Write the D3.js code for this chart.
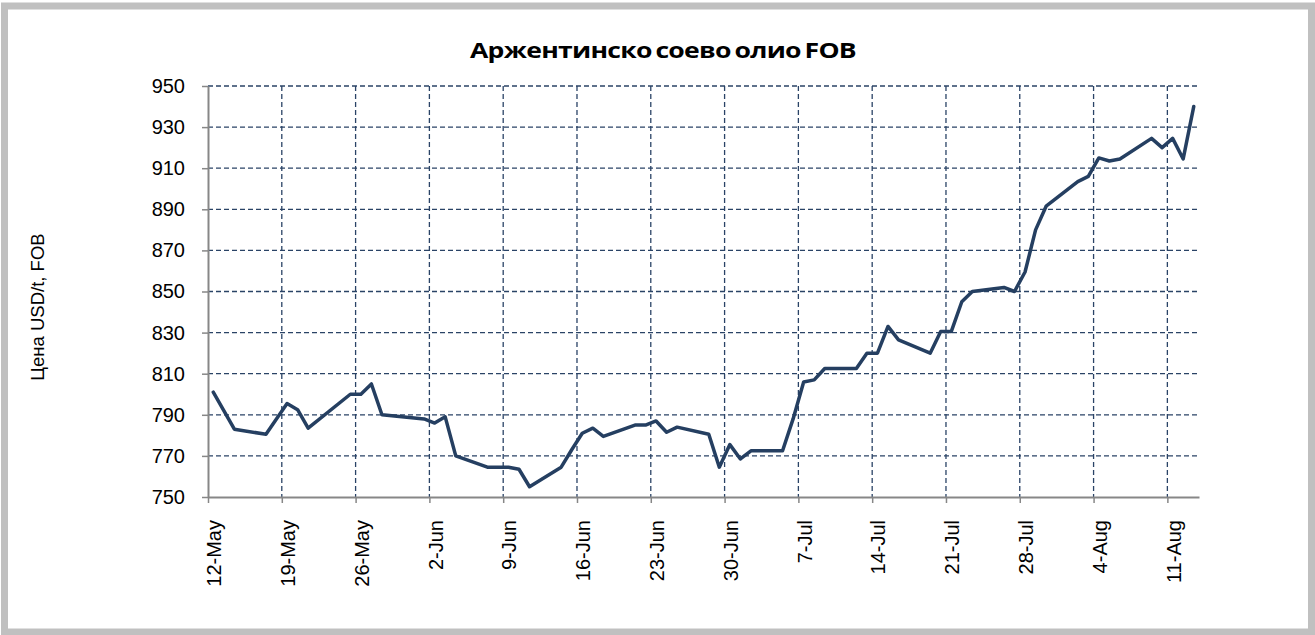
<!DOCTYPE html>
<html>
<head>
<meta charset="utf-8">
<script src="https://cdn.jsdelivr.net/npm/d3@7"></script>
<style>
  html, body { margin: 0; padding: 0; background: #ffffff; }
  svg { display: block; }
</style>
</head>
<body>
<svg id="chart" width="1315" height="635"></svg>
<script>
// ---- data ----
const title = "Аржентинско соево олио FOB";
const yLabel = "Цена USD/t, FOB";
const dates = [
  "2010-05-12","2010-05-14","2010-05-17","2010-05-19","2010-05-20","2010-05-21",
  "2010-05-25","2010-05-26","2010-05-27","2010-05-28","2010-06-01","2010-06-02",
  "2010-06-03","2010-06-04","2010-06-07","2010-06-09","2010-06-10","2010-06-11",
  "2010-06-14","2010-06-15","2010-06-16","2010-06-17","2010-06-18","2010-06-21",
  "2010-06-22","2010-06-23","2010-06-24","2010-06-25","2010-06-28","2010-06-29",
  "2010-06-30","2010-07-01","2010-07-02","2010-07-05","2010-07-06","2010-07-07",
  "2010-07-08","2010-07-09","2010-07-12","2010-07-13","2010-07-14","2010-07-15",
  "2010-07-16","2010-07-19","2010-07-20","2010-07-21","2010-07-22","2010-07-23",
  "2010-07-26","2010-07-27","2010-07-28","2010-07-29","2010-07-30","2010-08-02",
  "2010-08-03","2010-08-04","2010-08-05","2010-08-06","2010-08-09","2010-08-10",
  "2010-08-11","2010-08-12","2010-08-13"
];
const prices = [
  801, 783, 780.5, 795.5, 792.5, 783.5,
  800, 800, 805, 790, 788, 786,
  789, 770, 764.5, 764.5, 763.5, 755,
  764.5, 773, 781, 783.5, 779.5, 785,
  785, 787, 781.5, 784, 780.5, 764.5,
  775.5, 768.5, 772.5, 772.5, 788, 806,
  807, 812.5, 812.5, 820, 820, 833,
  826.5, 820, 830.5, 830.5, 845, 850,
  852, 850, 859.5, 880, 891.5, 903.5,
  906, 915, 913.5, 914.5, 924.5, 920,
  924.5, 914.5, 940
];
const xDomain = ["2010-05-12", "2010-08-14"];
const xTickDates = [
  "2010-05-12","2010-05-19","2010-05-26","2010-06-02","2010-06-09","2010-06-16",
  "2010-06-23","2010-06-30","2010-07-07","2010-07-14","2010-07-21","2010-07-28",
  "2010-08-04","2010-08-11"
];
const xTickLabels = ["12-May","19-May","26-May","2-Jun","9-Jun","16-Jun","23-Jun",
  "30-Jun","7-Jul","14-Jul","21-Jul","28-Jul","4-Aug","11-Aug"];
const yDomain = [750, 950];
const yTicks = [750, 770, 790, 810, 830, 850, 870, 890, 910, 930, 950];

// ---- layout ----
const parse = d3.utcParse("%Y-%m-%d");
const plot = { left: 208, right: 1199, top: 86, bottom: 497 };
const svg = d3.select("#chart");

const x = d3.scaleUtc().domain(xDomain.map(parse)).range([plot.left, plot.right]);
const y = d3.scaleLinear().domain(yDomain).range([plot.bottom, plot.top]);
// points sit in the middle of their one-day slot (date axis, between tick marks)
const mid = d => x(d3.utcHour.offset(d, 12));

const gridColor = "#2a4366";
const axisColor = "#878787";
const lineColor = "#253f61";

// frame
svg.append("rect")
  .attr("x", 4.5).attr("y", 6).attr("width", 1307).attr("height", 626)
  .attr("fill", "#ffffff").attr("stroke", "#c0c0c0").attr("stroke-width", 7);

// title
svg.append("text")
  .attr("x", 663).attr("y", 58)
  .attr("text-anchor", "middle")
  .attr("font-family", "'Open Sans', 'DejaVu Sans', sans-serif")
  .attr("font-weight", 700).attr("font-size", 22)
  .attr("letter-spacing", -0.6)
  .attr("word-spacing", -2)
  .attr("textLength", 386).attr("lengthAdjust", "spacingAndGlyphs")
  .attr("fill", "#000")
  .text(title);

// y label
svg.append("text")
  .attr("transform", "translate(44,307) rotate(-90)")
  .attr("text-anchor", "middle")
  .attr("font-family", "'Liberation Sans', Arial, sans-serif")
  .attr("font-size", 18.5)
  .attr("fill", "#000")
  .text(yLabel);

// gridlines
const grid = svg.append("g").attr("stroke", gridColor).attr("stroke-width", 1.3)
  .attr("stroke-dasharray", "5,3").attr("fill", "none");
grid.selectAll("line.h").data(yTicks.filter(v => v !== yDomain[0])).join("line")
  .attr("class", "h")
  .attr("x1", plot.left).attr("x2", plot.right)
  .attr("y1", d => y(d)).attr("y2", d => y(d));
grid.selectAll("line.v").data(xTickDates.slice(1).map(parse)).join("line")
  .attr("class", "v")
  .attr("x1", d => x(d)).attr("x2", d => x(d))
  .attr("y1", plot.top).attr("y2", plot.bottom);

// y axis
const yAxis = svg.append("g")
  .attr("transform", `translate(${plot.left},0)`)
  .call(d3.axisLeft(y).tickValues(yTicks).tickSize(6).tickPadding(17).tickSizeOuter(0));
yAxis.select(".domain").attr("stroke", axisColor).attr("stroke-width", 2);
yAxis.selectAll(".tick line").attr("stroke", axisColor).attr("stroke-width", 1.5);
yAxis.selectAll(".tick text")
  .attr("font-family", "'Liberation Sans', Arial, sans-serif")
  .attr("font-size", 20).attr("fill", "#000");

// x axis
const xAxis = svg.append("g")
  .attr("transform", `translate(0,${plot.bottom})`)
  .call(d3.axisBottom(x).tickValues(xTickDates.map(parse)).tickSize(6).tickSizeOuter(0).tickFormat(""));
xAxis.select(".domain").attr("stroke", axisColor).attr("stroke-width", 2);
xAxis.selectAll(".tick line").attr("stroke", axisColor).attr("stroke-width", 1.5);

// x labels (rotated, centred on the day slot)
svg.append("g").selectAll("text")
  .data(xTickDates.map((d, i) => ({ d: parse(d), label: xTickLabels[i] })))
  .join("text")
  .attr("transform", d => `translate(${mid(d.d) + 8},${plot.bottom + 23}) rotate(-90)`)
  .attr("text-anchor", "end")
  .attr("font-family", "'Liberation Sans', Arial, sans-serif")
  .attr("font-size", 20).attr("fill", "#000")
  .text(d => d.label);

// price line
const series = dates.map((d, i) => ({ d: parse(d), v: prices[i] }));
svg.append("path")
  .datum(series)
  .attr("fill", "none")
  .attr("stroke", lineColor)
  .attr("stroke-width", 3.5)
  .attr("stroke-linejoin", "round")
  .attr("stroke-linecap", "round")
  .attr("d", d3.line().x(p => mid(p.d)).y(p => y(p.v)));
</script>
</body>
</html>
